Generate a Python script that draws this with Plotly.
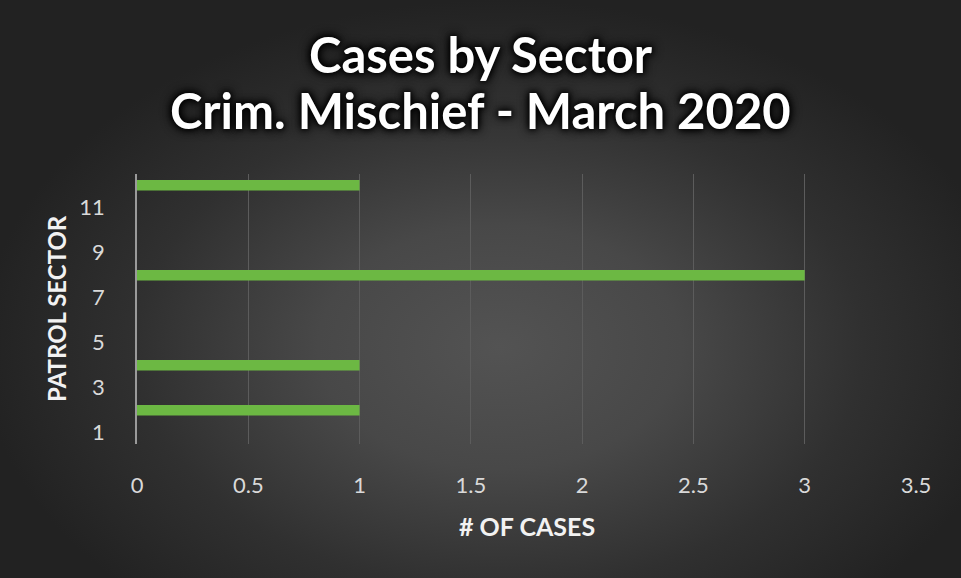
import plotly.graph_objects as go

# ---- data ----
sectors = [1, 2, 3, 4, 5, 6, 7, 8, 9, 10, 11, 12]
cases = [0, 1, 0, 1, 0, 0, 0, 3, 0, 0, 0, 1]
x_ticks = [0, 0.5, 1, 1.5, 2, 2.5, 3, 3.5]
y_ticks = [1, 3, 5, 7, 9, 11]
title_line1 = "Cases by Sector"
title_line2 = "Crim. Mischief - March 2020"
x_title = "# OF CASES"
y_title = "PATROL SECTOR"

W, H = 961, 578
FONT = "Lato"

fig = go.Figure()

# radial-gradient background on a full-page hidden subplot
fig.add_trace(go.Scatter(
    x=[-0.02, 1.06, 1.06, -0.02, -0.02], y=[-0.2, -0.2, 1.0, 1.0, -0.2],
    mode="lines", line=dict(width=0),
    fill="toself",
    fillgradient=dict(type="radial",
                      colorscale=[[0, "#535353"], [0.35, "#484848"],
                                  [0.7, "#303030"], [1, "#222222"]]),
    hoverinfo="skip", showlegend=False,
    xaxis="x", yaxis="y",
))

fig.add_trace(go.Bar(
    x=cases, y=sectors, orientation="h",
    marker=dict(color="#6cb843", line=dict(width=0)),
    width=0.47,
    showlegend=False,
    xaxis="x2", yaxis="y2",
))

x0p, x1p = 137 / W, 916 / W
y0p, y1p = 1 - 444 / H, 1 - 174 / H

tickfont = dict(family=FONT, size=22, color="#d9d9d9")
fig.update_layout(
    width=W, height=H, autosize=False,
    margin=dict(l=0, r=0, t=0, b=0, pad=0, autoexpand=False),
    paper_bgcolor="#2a2a2a",
    plot_bgcolor="rgba(0,0,0,0)",
    xaxis=dict(domain=[0, 1], range=[0, 1], visible=False, fixedrange=True,
               automargin=False),
    yaxis=dict(domain=[0, 1], range=[0, 1], visible=False, fixedrange=True,
               automargin=False),
    xaxis2=dict(
        domain=[x0p, x1p], anchor="y2", range=[0, 3.5], automargin=False,
        tickmode="array", tickvals=x_ticks,
        ticktext=[("%g" % v) for v in x_ticks],
        showgrid=True, gridcolor="#5c5c5c", gridwidth=1,
        zeroline=False, showline=False,
        tickfont=tickfont,
        ticklabelstandoff=26,
    ),
    yaxis2=dict(
        domain=[y0p, y1p], anchor="x2", range=[0.5, 12.5], automargin=False,
        tickmode="array", tickvals=y_ticks,
        showgrid=False, zeroline=False,
        showline=True, linecolor="#9a9a9a", linewidth=1.5,
        tickfont=tickfont,
        ticklabelstandoff=26,
    ),
    annotations=[
        dict(text=f"<b>{title_line1}</b>", x=0.5, y=1 - 54 / H, xref="paper", yref="paper",
             yanchor="middle", showarrow=False),
        dict(text=f"<b>{title_line2}</b>", x=0.5, y=1 - 110 / H, xref="paper", yref="paper",
             yanchor="middle", showarrow=False),
        dict(text=f"<b>{x_title}</b>", x=(x0p + x1p) / 2, y=1 - 526 / H,
             xref="paper", yref="paper", showarrow=False, yanchor="middle",
             font=dict(family=FONT, size=25, color="#f2f2f2")),
        dict(text=f"<b>{y_title}</b>", x=56 / W, y=(y0p + y1p) / 2,
             xref="paper", yref="paper", showarrow=False, textangle=-90,
             xanchor="center", yanchor="middle",
             font=dict(family=FONT, size=24, color="#f2f2f2")),
    ],
)

for i in range(2):
    fig.layout.annotations[i].update(
        font=dict(family=FONT, size=49, color="#ffffff",
                  shadow="0px 0px 5px #000, 0px 0px 9px #000, 0px 0px 12px #000"),
    )

fig.write_html(
    "out.html",
    config={"responsive": False, "displayModeBar": False},
    post_script=("document.body.style.margin='0';"
                 "document.documentElement.style.overflow='hidden';"
                 "document.body.style.overflow='hidden';"),
)
